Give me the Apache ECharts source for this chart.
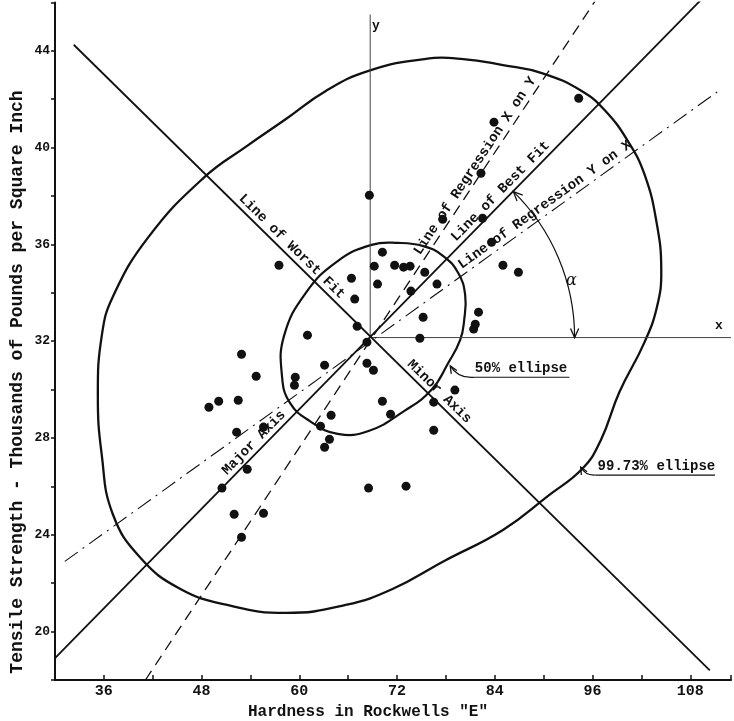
<!DOCTYPE html>
<html><head><meta charset="utf-8">
<script src="https://cdn.jsdelivr.net/npm/echarts@6/dist/echarts.min.js"></script>
<style>html,body{margin:0;padding:0;background:#fff}#c{width:734px;height:721px}</style>
</head><body><div id="c"></div>
<script>
// ---- tick labels ----
const xTickLabels = [36, 48, 60, 72, 84, 96, 108];
const yTickLabels = [20, 24, 28, 32, 36, 40, 44];

// ---- observations: hardness (Rockwell E) and tensile strength (1000 psi) ----
const hardness = [57.5, 70.2, 69.2, 71.7, 72.8, 73.6, 66.4, 69.6, 66.8, 67.1,
                  68.3, 61.0, 52.9, 63.1, 68.3, 69.1, 54.7, 59.5, 59.4, 48.9,
                  50.1, 52.5, 70.2, 71.2, 63.9, 55.6, 52.3, 62.6, 63.7, 63.1,
                  53.6, 50.5, 68.5, 73.1, 52.0, 55.6, 52.9, 94.3, 83.9, 82.3,
                  77.6, 82.5, 68.6, 83.6, 75.4, 76.9, 73.7, 85.0, 86.9, 82.0,
                  81.6, 81.4, 75.2, 74.8, 79.1, 76.5, 76.5];
const strength = [35.14, 35.68, 35.10, 35.14, 35.06, 35.10, 34.60, 34.36, 33.74, 32.62,
                  31.96, 32.25, 31.46, 31.01, 31.09, 30.80, 30.55, 30.51, 30.18, 29.27,
                  29.52, 29.56, 29.52, 28.98, 28.94, 28.45, 28.24, 28.49, 27.95, 27.62,
                  26.71, 25.93, 25.93, 26.01, 24.85, 24.89, 23.90, 42.04, 41.05, 38.94,
                  37.04, 37.08, 38.03, 36.09, 34.85, 34.36, 34.07, 35.14, 34.85, 33.20,
                  32.70, 32.50, 32.99, 32.12, 29.98, 29.48, 28.32];

// ---- fitted lines (end points) ----
const meanPoint    = [68.7, 32.15];
const bestFitLine  = [[30.0, 18.9], [109.3, 46.1]];
const worstFitLine = [[32.3, 44.25], [110.4, 18.4]];
const xOnYLine     = [[41.1, 18.0], [96.4, 46.1]];
const yOnXLine     = [[31.2, 22.9], [111.3, 42.3]];
const yRefLine     = [[68.7, 32.15], [68.7, 45.5]];
const xRefLine     = [[68.7, 32.15], [113, 32.15]];
const alphaArcX    = 93.8;

// ---- ellipse outlines ----
const ellipse50 = [[68.87,35.98],[72.17,36.06],[75.23,35.93],[77.67,35.52],[79.51,34.82],
  [80.36,33.91],[80.24,32.88],[79.75,32.05],[78.28,31.10],[76.20,29.98],[72.90,29.12],
  [68.50,28.29],[64.71,28.17],[61.29,28.70],[58.85,29.45],[57.87,30.56],[58.12,32.22],
  [60.80,34.00],[64.71,35.31]];
const ellipse9973 = [[68.50,43.17],[75.35,43.66],[80.12,43.66],[85.00,43.41],[89.77,43.08],
  [94.66,42.34],[97.59,41.51],[100.41,40.23],[102.36,38.91],[103.83,36.97],[104.44,34.94],
  [103.90,33.40],[102.30,31.90],[99.30,29.90],[97.00,27.90],[94.80,26.75],[90.50,25.60],
  [85.00,24.20],[77.79,22.92],[71.44,21.76],[65.69,21.10],[58.36,20.77],[51.15,21.10],
  [45.40,21.76],[40.51,23.04],[37.09,24.86],[35.74,27.30],[35.26,29.78],[35.74,32.22],
  [37.09,33.83],[41.49,36.31],[48.21,38.74],[53.59,40.07],[58.36,41.18],[63.25,42.34]];

// ---- text annotations ----
const lineLabels = [
  {text: 'Line of Worst Fit',         line: worstFitLine, at: 58.3},
  {text: 'Minor Axis',                line: worstFitLine, at: 76.4},
  {text: 'Major Axis',                line: bestFitLine,  at: 55.2},
  {text: 'Line of Best Fit',          line: bestFitLine,  at: 85.5},
  {text: 'Line of Regression X on Y', line: xOnYLine,     at: 82.5},
  {text: 'Line of Regression Y on X', line: yOnXLine,     at: 90.8}
];
const callouts = [
  {text: '50% ellipse',    pos: [81.55, 30.89], ul: [81.55, 93.16, 30.51], leader: [[81.55,30.51],[79.5,30.44],[78.53,30.98]]},
  {text: '99.73% ellipse', pos: [96.62, 26.84], ul: [96.37, 111.04, 26.47], leader: [[96.37,26.47],[95.15,26.43],[94.54,26.80]]}
];
const axisLetters = [{text: 'y', pos: [69.4, 45.05]}, {text: 'x', pos: [111.5, 32.62]}];
const alphaPos = [93.4, 34.5];

const MONO = '"Liberation Mono", "DejaVu Sans Mono", monospace';
const INK = '#111';

function yAt(line, x) {
  const [a, b] = line;
  return a[1] + (b[1] - a[1]) * (x - a[0]) / (b[0] - a[0]);
}
function arrowHead(tip, dir, len) {
  const n = Math.hypot(dir[0], dir[1]); const d = [dir[0] / n, dir[1] / n];
  const s = 0.42, pts = [];
  for (const sg of [1, -1]) {
    const c = Math.cos(sg * s), sn = Math.sin(sg * s);
    const r = [d[0] * c - d[1] * sn, d[0] * sn + d[1] * c];
    pts.push([tip[0] - r[0] * len, tip[1] - r[1] * len]);
  }
  return {type: 'polyline', shape: {points: [pts[0], tip, pts[1]]}, style: {fill: 'none', stroke: INK, lineWidth: 1.3}};
}

function seg(pts, style, z) {
  return {type: 'line', data: pts, showSymbol: false, symbol: 'none', silent: true,
          lineStyle: Object.assign({color: INK}, style), z: z || 2};
}
function closedCurve(points, width) {
  return {
    type: 'custom', coordinateSystem: 'cartesian2d', silent: true, data: [points[0]], z: 2,
    renderItem: function (params, api) {
      const pts = points.map(p => api.coord(p));
      return {type: 'polygon', shape: {points: pts, smooth: 0.45},
              style: {fill: 'none', stroke: INK, lineWidth: width}};
    }
  };
}

const annotationSeries = {
  type: 'custom', coordinateSystem: 'cartesian2d', silent: true, data: [meanPoint], z: 5,
  renderItem: function (params, api) {
    const ch = [];
    for (const L of lineLabels) {
      const a = api.coord(L.line[0]), b = api.coord(L.line[1]);
      const ang = Math.atan2(a[1] - b[1], b[0] - a[0]);
      const p = api.coord([L.at, yAt(L.line, L.at)]);
      const gap = 2;
      ch.push({type: 'text', x: p[0] - Math.sin(ang) * gap, y: p[1] - Math.cos(ang) * gap, rotation: ang,
               style: {text: L.text, font: 'bold 14px ' + MONO, fill: INK, align: 'center', verticalAlign: 'bottom',
                       textAlign: 'center', textVerticalAlign: 'bottom'}});
    }
    for (const C of callouts) {
      const p = api.coord(C.pos);
      ch.push({type: 'text', x: p[0], y: p[1],
               style: {text: C.text, font: 'bold 14px ' + MONO, fill: INK, align: 'left', verticalAlign: 'middle',
                       textAlign: 'left', textVerticalAlign: 'middle'}});
      const u1 = api.coord([C.ul[0], C.ul[2]]), u2 = api.coord([C.ul[1], C.ul[2]]);
      ch.push({type: 'line', shape: {x1: u1[0], y1: u1[1], x2: u2[0], y2: u2[1]}, style: {stroke: INK, lineWidth: 1.2}});
      const s = api.coord(C.leader[0]), c = api.coord(C.leader[1]), t = api.coord(C.leader[2]);
      ch.push({type: 'bezierCurve', shape: {x1: s[0], y1: s[1], cpx1: c[0], cpy1: c[1], x2: t[0], y2: t[1]},
               style: {fill: 'none', stroke: INK, lineWidth: 1.2}});
      ch.push(arrowHead(t, [t[0] - c[0], t[1] - c[1]], 8));
    }
    const cc = api.coord(meanPoint);
    const r = api.coord([alphaArcX, meanPoint[1]])[0] - cc[0];
    const a = api.coord(bestFitLine[0]), b = api.coord(bestFitLine[1]);
    const th1 = Math.atan2(b[1] - a[1], b[0] - a[0]);
    ch.push({type: 'arc', shape: {cx: cc[0], cy: cc[1], r: r, startAngle: th1, endAngle: 0, clockwise: true},
             style: {fill: 'none', stroke: INK, lineWidth: 1.2}});
    ch.push(arrowHead([cc[0] + r * Math.cos(th1), cc[1] + r * Math.sin(th1)], [Math.sin(th1), -Math.cos(th1)], 10));
    ch.push(arrowHead([cc[0] + r, cc[1]], [0, 1], 10));
    const ap = api.coord(alphaPos);
    ch.push({type: 'text', x: ap[0], y: ap[1],
             style: {text: 'α', font: 'italic 16px "DejaVu Serif", serif', fill: INK, align: 'center', verticalAlign: 'middle',
                     textAlign: 'center', textVerticalAlign: 'middle'}});
    for (const A of axisLetters) {
      const q = api.coord(A.pos);
      ch.push({type: 'text', x: q[0], y: q[1],
               style: {text: A.text, font: 'bold 13px ' + MONO, fill: INK, align: 'center', verticalAlign: 'middle',
                       textAlign: 'center', textVerticalAlign: 'middle'}});
    }
    return {type: 'group', children: ch};
  }
};

const chart = echarts.init(document.getElementById('c'), null, {renderer: 'canvas'});
chart.setOption({
  animation: false,
  backgroundColor: '#fff',
  grid: {left: 55, right: 0, top: 2.4, bottom: 41, containLabel: false},
  xAxis: {
    type: 'value', min: 30, max: 113, interval: 6,
    axisLine: {show: true, onZero: false, lineStyle: {color: INK, width: 2}},
    axisTick: {show: true, inside: true, length: 5, lineStyle: {color: INK, width: 1.5}},
    axisLabel: {margin: 4, color: INK, fontFamily: MONO, fontWeight: 'bold', fontSize: 15,
                formatter: v => xTickLabels.includes(v) ? String(v) : ''},
    splitLine: {show: false}
  },
  yAxis: {
    type: 'value', min: 18, max: 46, interval: 2,
    axisLine: {show: true, onZero: false, lineStyle: {color: INK, width: 2}},
    axisTick: {show: true, inside: false, length: 4, lineStyle: {color: INK, width: 1.5}},
    axisLabel: {margin: 5, color: INK, fontFamily: MONO, fontWeight: 'bold', fontSize: 13,
                formatter: v => yTickLabels.includes(v) ? String(v) : ''},
    splitLine: {show: false}
  },
  graphic: [
    {type: 'text', x: 368, y: 712, style: {text: 'Hardness in Rockwells "E"', font: 'bold 16px ' + MONO, fill: INK,
      align: 'center', verticalAlign: 'middle', textAlign: 'center', textVerticalAlign: 'middle'}},
    {type: 'text', x: 17, y: 382, rotation: Math.PI / 2, style: {text: 'Tensile Strength - Thousands of Pounds per Square Inch',
      font: 'bold 18px ' + MONO, fill: INK, align: 'center', verticalAlign: 'middle', textAlign: 'center', textVerticalAlign: 'middle'}}
  ],
  series: [
    seg(yRefLine, {width: 1, color: '#444'}),
    seg(xRefLine, {width: 1, color: '#444'}),
    seg(bestFitLine, {width: 1.8}),
    seg(worstFitLine, {width: 1.8}),
    seg(xOnYLine, {width: 1.3, type: [11, 7]}),
    seg(yOnXLine, {width: 1.1, type: [16, 6, 2, 6]}),
    closedCurve(ellipse50, 2.2),
    closedCurve(ellipse9973, 2.3),
    annotationSeries,
    {type: 'scatter', data: hardness.map((h, i) => [h, strength[i]]), symbolSize: 9, z: 6,
     itemStyle: {color: INK, opacity: 1}, silent: true}
  ]
});
</script></body></html>
